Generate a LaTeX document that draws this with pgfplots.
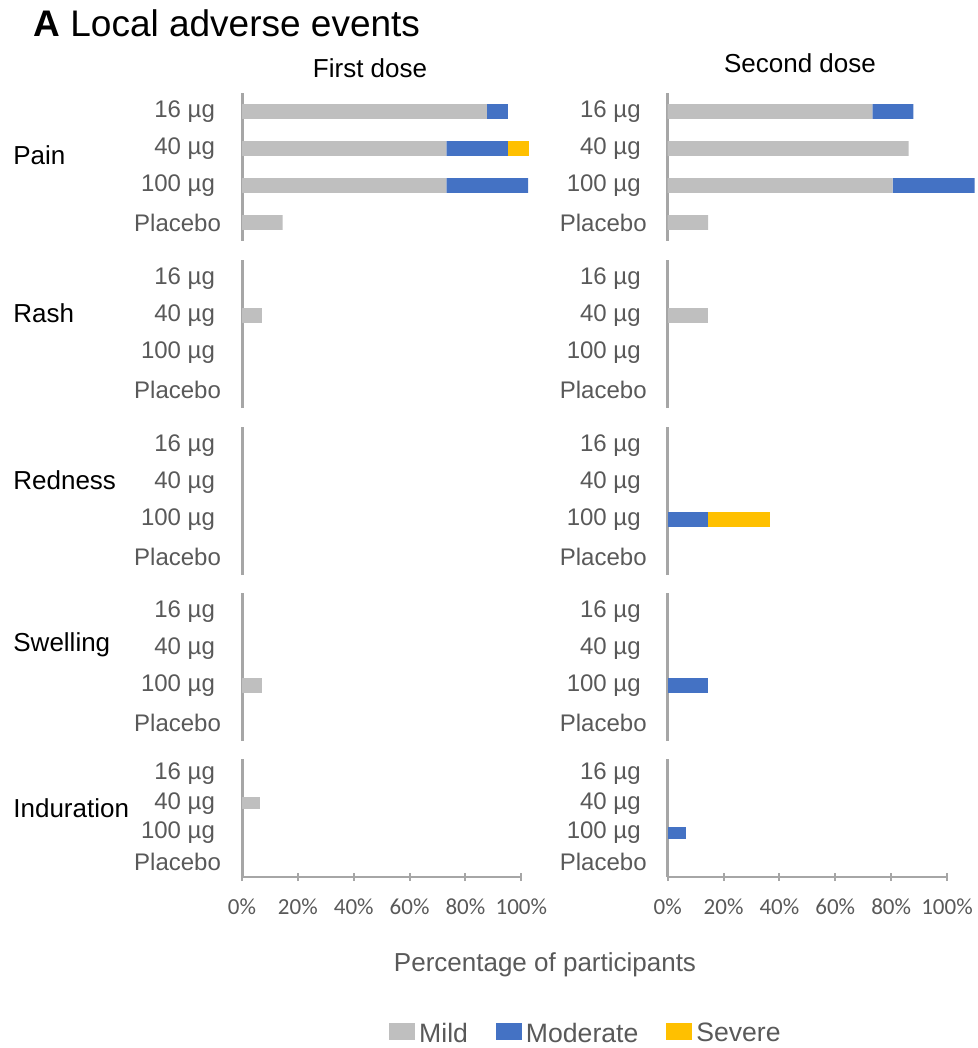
\documentclass[border=0pt]{standalone}
\usepackage{fontspec}
\setmainfont{Liberation Sans}
\newfontfamily\tickfont{Carlito}
\usepackage{pgfplots}
\usepackage{pgfplotstable}
\pgfplotsset{compat=1.18}
\definecolor{mild}{HTML}{BFBFBF}
\definecolor{moderate}{HTML}{4472C4}
\definecolor{severe}{HTML}{FFC000}
\definecolor{axgray}{HTML}{A6A6A6}
\definecolor{labgray}{HTML}{595959}

% rows: 3 = 16 ug, 2 = 40 ug, 1 = 100 ug, 0 = placebo
\pgfplotstableread{
row mild mod sev
3 87.7 7.5 0
2 73.2 22.0 7.5
1 73.2 29.2 0
0 14.5 0 0
}\painA
\pgfplotstableread{
row mild mod sev
3 0 0 0
2 7.3 0 0
1 0 0 0
0 0 0 0
}\rashA
\pgfplotstableread{
row mild mod sev
3 0 0 0
2 0 0 0
1 0 0 0
0 0 0 0
}\rednessA
\pgfplotstableread{
row mild mod sev
3 0 0 0
2 0 0 0
1 7.3 0 0
0 0 0 0
}\swellingA
\pgfplotstableread{
row mild mod sev
3 0 0 0
2 6.6 0 0
1 0 0 0
0 0 0 0
}\indurationA
\pgfplotstableread{
row mild mod sev
3 73.3 14.7 0
2 86.3 0 0
1 80.5 29.4 0
0 14.5 0 0
}\painB
\pgfplotstableread{
row mild mod sev
3 0 0 0
2 14.5 0 0
1 0 0 0
0 0 0 0
}\rashB
\pgfplotstableread{
row mild mod sev
3 0 0 0
2 0 0 0
1 0 14.5 22.2
0 0 0 0
}\rednessB
\pgfplotstableread{
row mild mod sev
3 0 0 0
2 0 0 0
1 0 14.6 0
0 0 0 0
}\swellingB
\pgfplotstableread{
row mild mod sev
3 0 0 0
2 0 0 0
1 0 6.6 0
0 0 0 0
}\indurationB

\newcommand{\pad}{\rule{3pt}{0pt}}

\pgfplotsset{
  panel/.style={
    scale only axis,
    width=139.65pt,
    anchor=north west,
    xbar stacked,
    bar width=0.4,
    xmin=0, xmax=100,
    ymin=-0.5, ymax=3.5,
    clip=false,
    axis x line=none,
    axis y line=left,
    axis line style={-, draw=axgray, line width=1.5pt},
    tick align=outside,
    major tick length=4pt,
    ytick={0,1,2,3},
    yticklabels={Placebo,100 µg\pad,40 µg\pad,16 µg\pad},
    yticklabel style={font=\fontsize{12}{14}\selectfont, text=labgray, xshift=-3pt},
    ytick style={draw=none},
  },
  bottompanel/.style={
    hide x axis=false,
    axis x line=bottom,
    x axis line style={-, line width=1pt},
    xtick={0,20,40,60,80,100},
    xticklabels={0\%,20\%,40\%,60\%,80\%,100\%},
    xtick style={draw=axgray, line width=1pt},
    xticklabel style={font=\tickfont\fontsize{11.5}{13}\selectfont, text=labgray, yshift=-5.5pt},
  },
}

% #1 x, #2 y, #3 height, #4 table, #5 extra axis options
\newcommand{\panel}[5]{%
  \begin{axis}[panel, at={(#1,#2)}, height=#3, #5]
    \addplot[draw=none, fill=mild] table[x=mild, y=row] {#4};
    \addplot[draw=none, fill=moderate] table[x=mod, y=row] {#4};
    \addplot[draw=none, fill=severe] table[x=sev, y=row] {#4};
  \end{axis}}

\begin{document}
\begin{tikzpicture}
\useasboundingbox (0,0) rectangle (489pt,-524pt);

\node[anchor=base west, inner sep=0, font=\fontsize{18.5}{22}\selectfont] at (16.5pt,-18.5pt) {\textbf{A} Local adverse events};
\node[font=\fontsize{13}{15}\selectfont] at (185pt,-34pt) {First dose};
\node[font=\fontsize{13}{15}\selectfont] at (400pt,-31.5pt) {Second dose};

\foreach \lab/\yy in {Pain/-77.5pt, Rash/-156.5pt, Redness/-240pt, Swelling/-322.5pt, Induration/-404pt}
  \node[anchor=west, inner sep=0, font=\fontsize{13}{15}\selectfont] at (6.5pt,\yy) {\lab};

% first dose
\panel{121pt}{-46.5pt}{74pt}{\painA}{}
\panel{121pt}{-130pt}{74pt}{\rashA}{}
\panel{121pt}{-213.5pt}{74pt}{\rednessA}{}
\panel{121pt}{-296.5pt}{74pt}{\swellingA}{}
\panel{121pt}{-379.5pt}{59pt}{\indurationA}{bottompanel,
  legend entries={Mild,Moderate,Severe},
  legend style={at={(1.235,-1.331)}, anchor=center, draw=none, fill=none,
    legend columns=3, font=\fontsize{13.3}{15}\selectfont, text=labgray,
    /tikz/every even column/.append style={column sep=12pt}},
  legend image code/.code={\fill[#1] (0pt,-3pt) rectangle (13pt,5.5pt);}}

% second dose
\panel{333.85pt}{-46.5pt}{74pt}{\painB}{}
\panel{333.85pt}{-130pt}{74pt}{\rashB}{}
\panel{333.85pt}{-213.5pt}{74pt}{\rednessB}{}
\panel{333.85pt}{-296.5pt}{74pt}{\swellingB}{}
\panel{333.85pt}{-379.5pt}{59pt}{\indurationB}{bottompanel}

\node[font=\fontsize{13}{15}\selectfont, text=labgray] at (272.5pt,-482.5pt) {Percentage of participants};
\end{tikzpicture}
\end{document}
